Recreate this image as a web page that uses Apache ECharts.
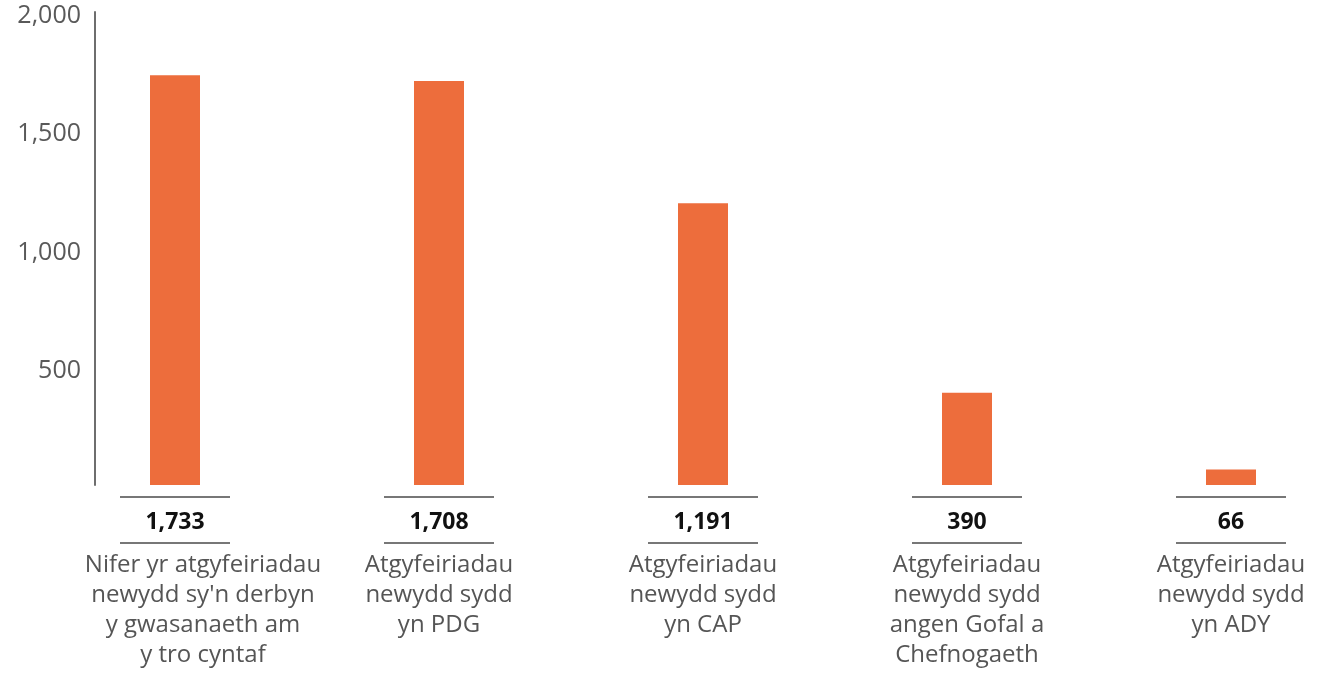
<!DOCTYPE html>
<html>
<head>
<meta charset="utf-8">
<script src="https://cdn.jsdelivr.net/npm/echarts@6/dist/echarts.min.js"></script>
<style>
html,body{margin:0;padding:0;background:#fff;}
#chart{width:1322px;height:674px;}
</style>
</head>
<body>
<div id="chart"></div>
<script>
const categories = [
  "Nifer yr atgyfeiriadau\nnewydd sy'n derbyn\ny gwasanaeth am\ny tro cyntaf",
  "Atgyfeiriadau\nnewydd sydd\nyn PDG",
  "Atgyfeiriadau\nnewydd sydd\nyn CAP",
  "Atgyfeiriadau\nnewydd sydd\nangen Gofal a\nChefnogaeth",
  "Atgyfeiriadau\nnewydd sydd\nyn ADY"
];
const values = [1733, 1708, 1191, 390, 66];
const yTicks = [500, 1000, 1500, 2000];

const FONT = '"Open Sans"';
const fmt = v => Number(v).toLocaleString('en-US');

const chart = echarts.init(document.getElementById('chart'), null, {renderer: 'canvas'});
chart.setOption({
  animation: false,
  backgroundColor: '#ffffff',
  grid: [
    {left: 95, right: 20, top: 12, bottom: 189, outerBoundsMode: 'none'},
    {left: 43, width: 1320, top: 12, bottom: 189, outerBoundsMode: 'none'}
  ],
  xAxis: [
    {gridIndex: 0, type: 'category', data: categories, show: false},
    {
      gridIndex: 1, type: 'category',
      data: categories.map((c, i) => i === 0 ? {value: c, textStyle: {padding: [0, 0, 0, 56]}} : c),
      axisLine: {show: false}, axisTick: {show: false},
      axisLabel: {
        interval: 0, margin: 65, color: '#555', fontFamily: FONT, fontSize: 24, lineHeight: 30,
        align: 'center', verticalAlign: 'top'
      }
    }
  ],
  yAxis: [
    {
      gridIndex: 0, type: 'value', min: 0, max: 2000, interval: 500,
      axisLine: {show: true, lineStyle: {color: '#6e6e6e', width: 2}},
      axisTick: {show: false}, splitLine: {show: false},
      axisLabel: {
        margin: 14, color: '#595959', fontFamily: FONT, fontSize: 25,
        formatter: v => yTicks.indexOf(v) >= 0 ? '{a|' + fmt(v) + '}' : '',
        rich: {a: {fontFamily: FONT, fontSize: 25, color: '#595959', padding: [8, 0, 0, 0]}}
      }
    },
    {gridIndex: 1, type: 'value', min: 0, max: 2000, show: false}
  ],
  series: [
    {
      type: 'bar', xAxisIndex: 1, yAxisIndex: 1, data: values, barWidth: 50,
      itemStyle: {color: '#ED6D3C'}
    },
    {
      type: 'custom', xAxisIndex: 1, yAxisIndex: 1, clip: false, silent: true,
      data: values.map((v, i) => [i, v]),
      renderItem: function (params, api) {
        const p = api.coord([api.value(0), 0]);
        const v = api.value(1);
        const lineStyle = {stroke: '#777', lineWidth: 2};
        return {
          type: 'group',
          children: [
            {type: 'line', shape: {x1: p[0] - 55, y1: p[1] + 12, x2: p[0] + 55, y2: p[1] + 12}, style: lineStyle},
            {type: 'text', x: p[0], y: p[1] + 37, style: {
              text: fmt(v), fill: '#111', fontFamily: FONT, fontWeight: 'bold', fontSize: 23,
              align: 'center', verticalAlign: 'middle'
            }},
            {type: 'line', shape: {x1: p[0] - 55, y1: p[1] + 58, x2: p[0] + 55, y2: p[1] + 58}, style: lineStyle}
          ]
        };
      }
    }
  ]
});
</script>
</body>
</html>
